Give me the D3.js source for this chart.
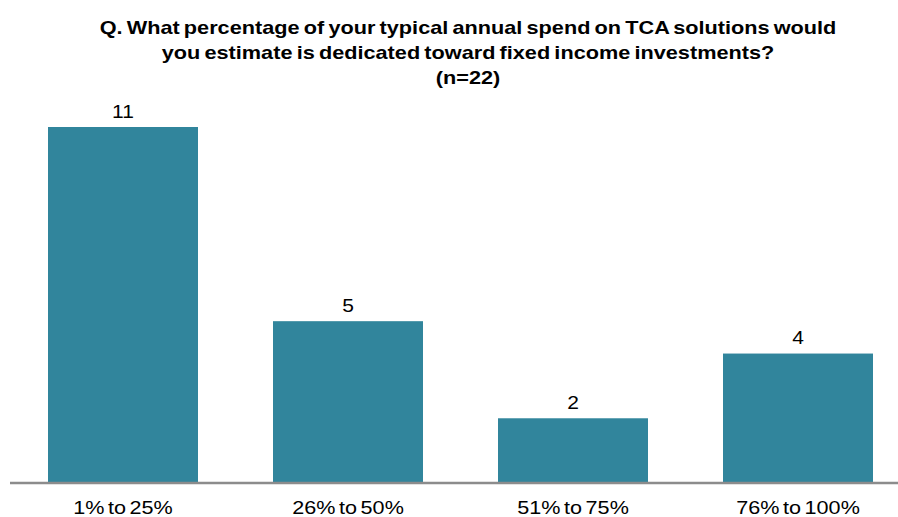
<!DOCTYPE html>
<html>
<head>
<meta charset="utf-8">
<script src="https://cdn.jsdelivr.net/npm/d3@7"></script>
<style>
  html, body { margin: 0; padding: 0; background: #fff; }
  svg { display: block; font-family: "Liberation Sans", Arial, sans-serif; }
</style>
</head>
<body>
<svg id="chart" width="898" height="517"></svg>
<script>
// Survey responses per spend bucket
const categories = ["1% to 25%", "26% to 50%", "51% to 75%", "76% to 100%"];
const counts = [11, 5, 2, 4];
const titleLines = [
  "Q. What percentage of your typical annual spend on TCA solutions would",
  "you estimate is dedicated toward fixed income investments?",
  "(n=22)"
];

const svg = d3.select("#chart");
const W = 898, H = 517;
const baseline = 483;
const stretch = 1.2; // wide-set lettering

const x = d3.scaleBand()
  .domain(categories)
  .range([10.5, 910.5])
  .paddingInner(1 / 3)
  .paddingOuter(1 / 6);

const y = d3.scaleLinear()
  .domain([0, 11])
  .range([baseline, 127]);

// Title
svg.append("g").selectAll("text")
  .data(titleLines)
  .join("text")
  .attr("transform", (d, i) => `translate(468,${34 + i * 25}) scale(1.24,1)`)
  .attr("text-anchor", "middle")
  .attr("font-weight", "bold")
  .attr("font-size", 17.5)
  .attr("word-spacing", -1.5)
  .attr("fill", "#000")
  .text(d => d);

// Bars
svg.append("g").selectAll("rect")
  .data(counts)
  .join("rect")
  .attr("x", (d, i) => x(categories[i]))
  .attr("y", d => y(d))
  .attr("width", x.bandwidth())
  .attr("height", d => baseline - y(d))
  .attr("fill", "#31859C");

// Value labels
svg.append("g").selectAll("text")
  .data(counts)
  .join("text")
  .attr("transform", (d, i) =>
    `translate(${x(categories[i]) + x.bandwidth() / 2},${y(d) - 9.5}) scale(${stretch},1)`)
  .attr("text-anchor", "middle")
  .attr("font-size", 17.5)
  .attr("fill", "#000")
  .text(d => d);

// Category axis
const axis = svg.append("g")
  .attr("transform", `translate(0,${baseline})`)
  .call(d3.axisBottom(x).tickSize(0));
axis.select(".domain")
  .attr("d", `M10,0H${W}`)
  .attr("stroke", "#8c8c8c")
  .attr("stroke-width", 2.5);
axis.selectAll(".tick text")
  .attr("y", 0)
  .attr("dy", 0)
  .attr("transform", `translate(0,31) scale(${stretch},1)`)
  .attr("font-size", 18)
  .attr("word-spacing", -2)
  .attr("font-family", "Liberation Sans, Arial, sans-serif")
  .attr("fill", "#000");
</script>
</body>
</html>
